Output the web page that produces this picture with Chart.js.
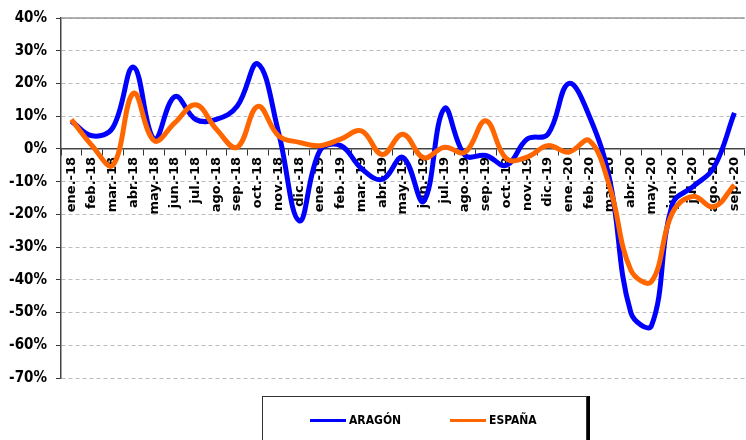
<!DOCTYPE html>
<html>
<head>
<meta charset="utf-8">
<script src="https://cdn.jsdelivr.net/npm/chart.js@4/dist/chart.umd.min.js"></script>
<style>
    body { margin: 0; background: #fff; }
    #wrap { position: relative; width: 746px; height: 440px; overflow: hidden; }
    #chart { position: absolute; left: 0; top: 0; }
    #legend {
        position: absolute; left: 262px; top: 396px; width: 323px; height: 60px;
        border: 1px solid #333; box-shadow: 3px 0 0 #000; background: #fff;
        font-family: 'Liberation Sans Narrow', 'DejaVu Sans Condensed', Arial, sans-serif;
        font-weight: bold; font-size: 12px;
    }
    .item { position: absolute; top: 16px; display: flex; align-items: center; }
    .swatch { display: inline-block; width: 36px; height: 3px; margin-right: 3px; }
</style>
</head>
<body>
<div id="wrap">
    <canvas id="chart" width="752" height="440"></canvas>
    <div id="legend"></div>
</div>
<script>

const labels = [
    "ene.-18", "feb.-18", "mar.-18", "abr.-18", "may.-18", "jun.-18", "jul.-18", "ago.-18",
    "sep.-18", "oct.-18", "nov.-18", "dic.-18", "ene.-19", "feb.-19", "mar.-19", "abr.-19",
    "may.-19", "jun.-19", "jul.-19", "ago.-19", "sep.-19", "oct.-19", "nov.-19", "dic.-19",
    "ene.-20", "feb.-20", "mar.-20", "abr.-20", "may.-20", "jun.-20", "jul.-20", "ago.-20",
    "sep.-20"
];

const aragon = [
    8.5, 4, 6.5, 25, 3, 16, 9, 9, 13, 26, 5, -22, -0.5, 1, -6, -9.3,
    -2.6, -16, 12.3, -2, -2, -5, 3, 4.5, 20, 10, -10, -50, -54, -17, -11.5, -5.8,
    11
];

const espana = [
    9, 1, -5, 17, 2.5, 8, 13.5, 6, 0.5, 13, 4, 2, 1, 3, 5.5, -1.7,
    4.5, -2.7, 0.5, -1, 8.6, -3, -2.5, 1, -1, 2.5, -12, -37, -40.5, -19.6, -14.5, -17.7,
    -11
];

const seriesNames = ["ARAGÓN", "ESPAÑA"];
const seriesColors = ["#0000ff", "#ff6600"];
const chartTitle = "VARIACIÓN INTERANUAL";

const narrowFont = "'Liberation Sans Narrow', 'DejaVu Sans Condensed', Arial, sans-serif";


// top solid line and the half-hidden title
const extras = {
    id: "extras",
    afterDraw(chart) {
        const ctx = chart.ctx;
        const area = chart.chartArea;
        ctx.save();
        ctx.strokeStyle = "#999";
        ctx.lineWidth = 1.5;
        ctx.beginPath();
        ctx.moveTo(area.left, area.top);
        ctx.lineTo(area.right, area.top);
        ctx.stroke();

        ctx.fillStyle = "#888";
        ctx.font = "bold 16px " + narrowFont;
        ctx.textAlign = "center";
        ctx.textBaseline = "alphabetic";
        ctx.fillText(chartTitle, 421, -1);
        ctx.restore();
    }
};


function drawLegend() {

    const legend = document.getElementById("legend");
    const lefts = [47, 187];

    seriesNames.forEach((name, i) => {
        const item = document.createElement("div");
        item.className = "item";
        item.style.left = lefts[i] + "px";
        item.innerHTML = `<span class="swatch" style="background:${seriesColors[i]}"></span><span>${name}</span>`;
        legend.appendChild(item);
    });
}


new Chart(document.getElementById("chart"), {

    type: "line",

    data: {
        labels: labels,
        datasets: [
            {
                label: seriesNames[0],
                data: aragon,
                borderColor: seriesColors[0],
                borderWidth: 5,
                pointRadius: 0,
                tension: 0.4,
                fill: false,
                order: 1
            },
            {
                label: seriesNames[1],
                data: espana,
                borderColor: seriesColors[1],
                borderWidth: 5,
                pointRadius: 0,
                tension: 0.4,
                fill: false,
                order: 0
            }
        ]
    },

    plugins: [extras],

    options: {
        responsive: false,
        animation: false,
        layout: {
            padding: { top: 18, left: 0, right: 0, bottom: 62 }
        },
        plugins: {
            legend: { display: false },
            tooltip: { enabled: false }
        },
        scales: {

            x: {
                position: { y: 0 },
                offset: true,
                grid: {
                    drawOnChartArea: false,
                    offset: true,
                    tickLength: 6,
                    tickColor: "#333"
                },
                border: { color: "#444", width: 1.5 },
                ticks: {
                    autoSkip: false,
                    minRotation: 90,
                    maxRotation: 90,
                    padding: 2,
                    color: "#000",
                    font: { family: "'DejaVu Sans', Verdana, sans-serif", weight: "bold", size: 13 }
                }
            },

            y: {
                min: -70,
                max: 40,
                afterFit: axis => { axis.width = 61; },
                grid: {
                    color: "#bdbdbd",
                    tickColor: "#333",
                    tickLength: 5
                },
                border: { color: "#444", width: 1.5, dash: [4, 3] },
                ticks: {
                    stepSize: 10,
                    padding: 9,
                    color: "#000",
                    font: { family: narrowFont, weight: "bold", size: 15 },
                    callback: v => v + "%"
                }
            }
        }
    }
});

drawLegend();

</script>
</body>
</html>
